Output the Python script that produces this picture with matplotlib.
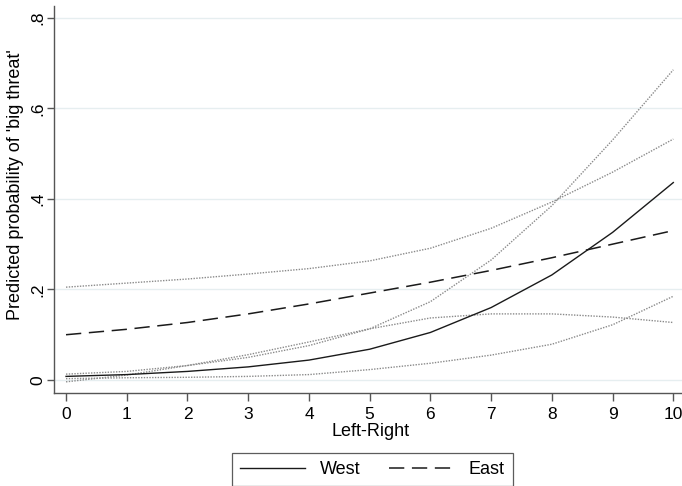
import matplotlib
matplotlib.use("Agg")
import matplotlib.pyplot as plt

plt.rcParams['font.family'] = ['Liberation Sans', 'DejaVu Sans']

x = [0, 1, 2, 3, 4, 5, 6, 7, 8, 9, 10]
west = [0.008, 0.012, 0.019, 0.029, 0.044, 0.068, 0.105, 0.160, 0.232, 0.326, 0.436]
west_hi = [0.013, 0.019, 0.032, 0.050, 0.076, 0.113, 0.173, 0.265, 0.385, 0.530, 0.685]
west_lo = [0.003, 0.005, 0.006, 0.008, 0.012, 0.023, 0.037, 0.055, 0.079, 0.122, 0.185]
east = [0.100, 0.112, 0.127, 0.146, 0.168, 0.192, 0.216, 0.242, 0.270, 0.300, 0.330]
east_hi = [0.205, 0.214, 0.223, 0.234, 0.246, 0.263, 0.291, 0.335, 0.393, 0.459, 0.532]
east_lo = [-0.004, 0.011, 0.032, 0.056, 0.084, 0.113, 0.137, 0.146, 0.146, 0.139, 0.127]

yticks = [0, 0.2, 0.4, 0.6, 0.8]
yticklabels = ['0', '.2', '.4', '.6', '.8']
xticks = list(range(0, 11))
series_labels = ['West', 'East']

fig = plt.figure(figsize=(6.82, 4.86), dpi=100)
ax = fig.add_axes([54.3 / 682, 1 - 392.7 / 486, 1 - 54.3 / 682, (392.7 - 5.7) / 486])

ci_color = '#8a8a8a'
ci_style = (0, (1, 1))
for ci in (west_hi, west_lo, east_hi, east_lo):
    ax.plot(x, ci, color=ci_color, lw=1.0, linestyle=ci_style, zorder=2)

lw_, = ax.plot(x, west, color='#1a1a1a', lw=1.0, zorder=3, label=series_labels[0])
le_, = ax.plot(x, east, color='#1a1a1a', lw=1.1, linestyle=(0, (10, 5)), zorder=3,
               label=series_labels[1])

ax.set_xlim(-0.193, 10.143)
ax.set_ylim(-0.028, 0.8265)

ax.set_yticks(yticks)
ax.set_yticklabels(yticklabels, rotation=90, va='center', ha='right')
ax.set_xticks(xticks)
ax.set_xticklabels([str(v) for v in xticks])

for yv in yticks:
    ax.axhline(yv, color='#e6eef0', lw=1.0, zorder=1)

for s in ['top', 'right']:
    ax.spines[s].set_visible(False)
for s in ['left', 'bottom']:
    ax.spines[s].set_color('#555555')
    ax.spines[s].set_linewidth(1.0)

ax.tick_params(axis='x', length=6, width=1.0, color='#555555', labelsize=12.5, pad=4)
ax.tick_params(axis='y', length=5, width=1.0, color='#555555', labelsize=12.5, pad=1.5)

ax.set_xlabel('Left-Right', fontsize=13)
ax.xaxis.set_label_coords((371 - 54.3) / 627.7, (392.7 - 423) / 387)
ax.set_ylabel("Predicted probability of 'big threat'", fontsize=13)
ax.yaxis.set_label_coords((24 - 54.3) / 627.7, (392.7 - 185) / 387)

leg = fig.legend(handles=[lw_, le_], labels=series_labels, loc='upper center',
                 bbox_to_anchor=(372.5 / 682, 1 - 453 / 486), bbox_transform=fig.transFigure,
                 ncol=2, fancybox=False, fontsize=13, handlelength=3.6,
                 handletextpad=0.8, columnspacing=1.6, borderpad=0.45, borderaxespad=0,
                 frameon=True)
leg.get_frame().set_edgecolor('#333333')
leg.get_frame().set_linewidth(0.9)

fig.savefig('out.png', dpi=100)
